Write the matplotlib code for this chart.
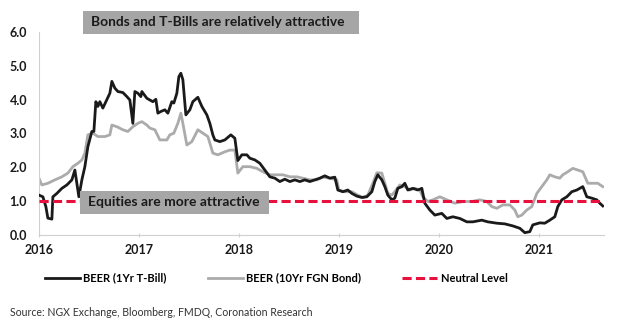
import matplotlib.pyplot as plt
from matplotlib.patches import Rectangle

plt.rcParams['font.family'] = ['Lato', 'DejaVu Sans']

# BEER based on 1Yr T-Bill (x in decimal years)
tbill_t = [2016.00, 2016.04, 2016.07, 2016.09, 2016.13, 2016.14, 2016.18, 2016.23, 2016.28,
           2016.33, 2016.36, 2016.38, 2016.40, 2016.43, 2016.46, 2016.49, 2016.53, 2016.55,
           2016.57, 2016.59, 2016.61, 2016.64, 2016.67, 2016.71, 2016.73, 2016.76, 2016.79,
           2016.84, 2016.88, 2016.91, 2016.94, 2016.96, 2016.99, 2017.02, 2017.03, 2017.08,
           2017.11, 2017.14, 2017.17, 2017.19, 2017.22, 2017.26, 2017.29, 2017.33, 2017.35,
           2017.38, 2017.40, 2017.42, 2017.44, 2017.47, 2017.51, 2017.54, 2017.59, 2017.63,
           2017.68, 2017.71, 2017.74, 2017.76, 2017.81, 2017.86, 2017.92, 2017.96, 2017.99,
           2018.03, 2018.08, 2018.11, 2018.16, 2018.21, 2018.26, 2018.31, 2018.36, 2018.41,
           2018.46, 2018.51, 2018.56, 2018.61, 2018.66, 2018.71, 2018.76, 2018.81, 2018.86,
           2018.91, 2018.96, 2018.99, 2019.04, 2019.09, 2019.13, 2019.18, 2019.23, 2019.28,
           2019.33, 2019.36, 2019.39, 2019.43, 2019.46, 2019.49, 2019.53, 2019.56, 2019.59,
           2019.63, 2019.66, 2019.69, 2019.74, 2019.79, 2019.83, 2019.86, 2019.91, 2019.96,
           2020.03, 2020.08, 2020.14, 2020.21, 2020.28, 2020.34, 2020.43, 2020.49, 2020.58,
           2020.66, 2020.74, 2020.81, 2020.86, 2020.91, 2020.94, 2021.01, 2021.06, 2021.11,
           2021.16, 2021.19, 2021.23, 2021.28, 2021.33, 2021.38, 2021.41, 2021.44, 2021.48,
           2021.53, 2021.58, 2021.61, 2021.64]
tbill_v = [1.18, 1.13, 0.84, 0.50, 0.47, 1.13, 1.23, 1.38, 1.48,
           1.63, 1.92, 1.53, 1.13, 1.63, 2.02, 2.61, 3.06, 3.06,
           3.94, 3.80, 3.94, 3.75, 3.94, 4.19, 4.54, 4.34, 4.24,
           4.21, 4.09, 3.99, 3.30, 4.24, 4.19, 4.09, 4.24, 4.04,
           3.99, 3.94, 4.01, 3.60, 3.65, 3.70, 3.60, 3.94, 3.90,
           4.19, 4.68, 4.78, 4.59, 3.55, 3.70, 3.94, 4.07, 3.80,
           3.55, 3.30, 2.96, 2.81, 2.76, 2.81, 2.96, 2.86, 2.20,
           2.37, 2.37, 2.27, 2.22, 2.12, 1.92, 1.72, 1.68, 1.58,
           1.65, 1.58, 1.63, 1.58, 1.63, 1.58, 1.63, 1.68, 1.75,
           1.68, 1.71, 1.33, 1.28, 1.33, 1.23, 1.15, 1.11, 1.13,
           1.28, 1.58, 1.78, 1.63, 1.43, 1.18, 1.04, 1.09, 1.38,
           1.43, 1.53, 1.33, 1.38, 1.33, 1.38, 0.94, 0.74, 0.59,
           0.64, 0.49, 0.54, 0.49, 0.39, 0.39, 0.44, 0.39, 0.35,
           0.33, 0.27, 0.20, 0.07, 0.10, 0.30, 0.36, 0.35, 0.44,
           0.54, 0.84, 1.04, 1.13, 1.28, 1.33, 1.38, 1.43, 1.13,
           1.09, 1.04, 0.94, 0.86]

# BEER based on 10Yr FGN Bond
bond_t = [2016.00, 2016.03, 2016.09, 2016.16, 2016.23, 2016.29, 2016.34, 2016.39, 2016.43,
          2016.46, 2016.49, 2016.54, 2016.59, 2016.66, 2016.71, 2016.73, 2016.78, 2016.84,
          2016.89, 2016.94, 2016.99, 2017.03, 2017.08, 2017.11, 2017.16, 2017.21, 2017.28,
          2017.31, 2017.35, 2017.39, 2017.42, 2017.44, 2017.48, 2017.53, 2017.59, 2017.64,
          2017.69, 2017.74, 2017.79, 2017.86, 2017.91, 2017.96, 2017.99, 2018.04, 2018.11,
          2018.18, 2018.24, 2018.31, 2018.38, 2018.44, 2018.51, 2018.58, 2018.64, 2018.71,
          2018.78, 2018.84, 2018.91, 2018.98, 2019.00, 2019.06, 2019.13, 2019.19, 2019.24,
          2019.29, 2019.34, 2019.38, 2019.43, 2019.46, 2019.49, 2019.53, 2019.56, 2019.61,
          2019.66, 2019.71, 2019.76, 2019.81, 2019.84, 2019.89, 2019.94, 2020.01, 2020.08,
          2020.16, 2020.24, 2020.33, 2020.41, 2020.48, 2020.53, 2020.58, 2020.64, 2020.71,
          2020.76, 2020.79, 2020.83, 2020.88, 2020.93, 2020.98, 2021.03, 2021.08, 2021.11,
          2021.16, 2021.21, 2021.24, 2021.29, 2021.34, 2021.39, 2021.44, 2021.49, 2021.54,
          2021.59, 2021.64]
bond_v = [1.68, 1.48, 1.53, 1.63, 1.72, 1.83, 2.02, 2.12, 2.22,
          2.42, 2.96, 3.01, 2.91, 2.91, 2.96, 3.25, 3.20, 3.11,
          3.06, 3.20, 3.30, 3.35, 3.25, 3.16, 3.11, 2.81, 2.81,
          2.96, 3.01, 3.30, 3.60, 3.30, 2.66, 2.76, 3.11, 3.01,
          2.91, 2.42, 2.37, 2.46, 2.51, 2.51, 1.83, 2.02, 2.02,
          1.97, 1.87, 1.78, 1.78, 1.78, 1.72, 1.72, 1.68, 1.63,
          1.63, 1.71, 1.68, 1.63, 1.33, 1.28, 1.28, 1.18, 1.11,
          1.18, 1.53, 1.84, 1.83, 1.53, 1.23, 1.18, 1.28, 1.48,
          1.43, 1.33, 1.38, 1.33, 1.13, 0.99, 1.04, 1.13, 1.04,
          0.94, 0.99, 0.99, 1.04, 0.99, 0.84, 0.79, 0.89, 0.89,
          0.74, 0.54, 0.59, 0.74, 0.84, 1.23, 1.43, 1.63, 1.78,
          1.72, 1.68, 1.78, 1.87, 1.97, 1.92, 1.87, 1.53, 1.53,
          1.53, 1.43]

years = [2016, 2017, 2018, 2019, 2020, 2021]
neutral = 1.0

fig = plt.figure(figsize=(6.27, 3.26), dpi=100)
ax = fig.add_axes([0.062, 0.279, 0.901, 0.623])

ax.plot(tbill_t, tbill_v, color='#1a1a1a', lw=2.0, label='BEER (1Yr T-Bill)', zorder=3)
ax.plot(bond_t, bond_v, color='#ababab', lw=2.0, label='BEER (10Yr FGN Bond)', zorder=2)
ax.axhline(neutral, color='#e8103c', lw=2.2, ls=(0, (3, 1.4)), label='Neutral Level', zorder=4)

ax.set_xlim(2016, 2021.65)
ax.set_ylim(0, 6)
ax.set_xticks(years)
ax.set_xticklabels([str(y) for y in years])
ax.set_yticks([0, 1, 2, 3, 4, 5, 6])
ax.set_yticklabels(['%.1f' % v for v in range(7)])
for lab in ax.get_xticklabels() + ax.get_yticklabels():
    lab.set_fontweight('bold')
    lab.set_fontsize(9)
    lab.set_color('#1a1a1a')
ax.tick_params(axis='x', length=3, direction='inout', color='#d0d0d0', pad=5)
ax.tick_params(axis='y', length=0, pad=8.5)

for s in ['top', 'right']:
    ax.spines[s].set_visible(False)
for s in ['left', 'bottom']:
    ax.spines[s].set_color('#d0d0d0')
    ax.spines[s].set_linewidth(0.8)

# shaded annotation boxes
fig.add_artist(Rectangle((0.1324, 0.8957), 0.4402, 0.0706, transform=fig.transFigure,
                         fc='#a6a6a6', ec='none', zorder=10))
fig.text(0.3477, 0.931, 'Bonds and T-Bills are relatively attractive', fontsize=9.9,
         fontweight='bold', color='#1a1a1a', va='center', ha='center', zorder=11)
fig.add_artist(Rectangle((0.1276, 0.3436), 0.3014, 0.0706, transform=fig.transFigure,
                         fc='#a6a6a6', ec='none', zorder=10))
fig.text(0.2775, 0.379, 'Equities are more attractive', fontsize=10,
         fontweight='bold', color='#1a1a1a', va='center', ha='center', zorder=11)

fig.legend(loc='center left', bbox_to_anchor=(0.072, 0.147), ncol=3, frameon=False,
           prop={'weight': 'bold', 'size': 8}, handlelength=3.15, handletextpad=0.3,
           columnspacing=3.7, borderaxespad=0, borderpad=0)

fig.text(0.016, 0.04, 'Source: NGX Exchange, Bloomberg, FMDQ, Coronation Research',
         fontsize=7.6, color='#333333', va='center', ha='left')

fig.savefig('out.png', dpi=100)
